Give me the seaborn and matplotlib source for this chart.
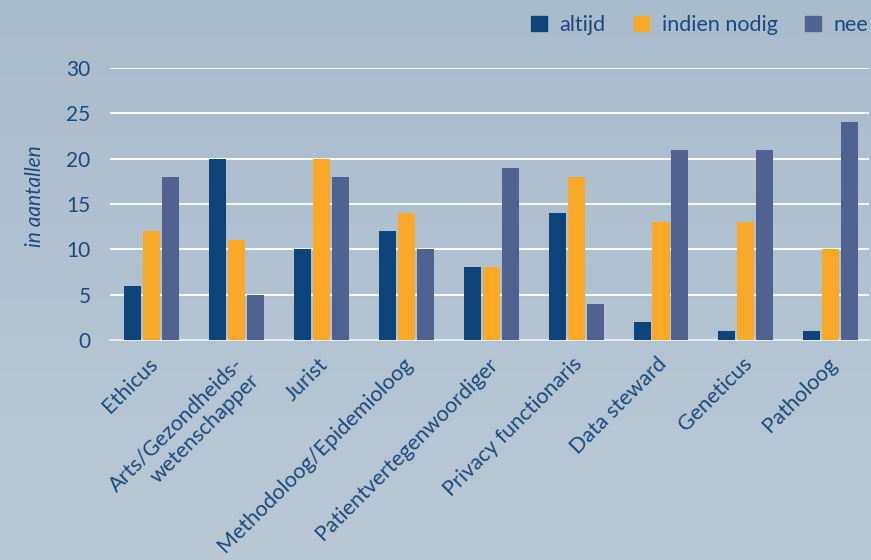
import numpy as np
import pandas as pd
import matplotlib
matplotlib.use("Agg")
import matplotlib.pyplot as plt
import matplotlib.transforms as mtransforms
import seaborn as sns

# data
rollen = ["Ethicus", "Arts/Gezondheids-\nwetenschapper", "Jurist", "Methodoloog/Epidemioloog",
          "Patientvertegenwoordiger", "Privacy functionaris", "Data steward", "Geneticus", "Patholoog"]
altijd = [6, 20, 10, 12, 8, 14, 2, 1, 1]
indien_nodig = [12, 11, 20, 14, 8, 18, 13, 13, 10]
nee = [18, 5, 18, 10, 19, 4, 21, 21, 24]
reeksen = ["altijd", "indien nodig", "nee"]
kleuren = ["#0e4479", "#f9a927", "#506290"]
tekst = "#1b4a7a"

df = pd.DataFrame({
    "rol": rollen * 3,
    "reeks": [r for r in reeksen for _ in rollen],
    "aantal": altijd + indien_nodig + nee,
})

sns.set_theme(style="white")
plt.rcParams["font.family"] = ["Lato", "DejaVu Sans"]

fig = plt.figure(figsize=(8.71, 5.6), dpi=100)

# gradient background
bg = fig.add_axes([0, 0, 1, 1], zorder=-10)
grad = np.linspace(0, 1, 256).reshape(-1, 1)
cmap = matplotlib.colors.LinearSegmentedColormap.from_list("bg", ["#a9bccd", "#b8c8d5"])
bg.imshow(grad, aspect="auto", cmap=cmap, extent=[0, 1, 0, 1], origin="upper")
bg.set_axis_off()

ax = fig.add_axes([110 / 871, 1 - 340 / 560, 759 / 871, 272 / 560])
ax.set_facecolor("none")
sns.barplot(data=df, x="rol", y="aantal", hue="reeks", palette=kleuren,
            width=0.67, gap=0.1, saturation=1, linewidth=0, edgecolor="none",
            ax=ax, legend=False, zorder=3)

ax.set_ylim(0, 30)
ax.set_xlim(-0.49, 8.45)
ax.set_yticks(range(0, 31, 5))
ax.yaxis.grid(True, color="white", linewidth=1.3, zorder=0)
for s in ["top", "right", "left"]:
    ax.spines[s].set_visible(False)
ax.spines["bottom"].set_color("#e4eaf0")
ax.spines["bottom"].set_linewidth(1.5)

ax.tick_params(axis="y", length=0, pad=14, labelsize=15, labelcolor=tekst)
ax.tick_params(axis="x", length=0, pad=10, labelsize=15.5, labelcolor=tekst)
shift = mtransforms.ScaledTranslation(-0.04, 0, fig.dpi_scale_trans)
for lbl in ax.get_xticklabels():
    lbl.set_rotation(45)
    lbl.set_ha("right")
    lbl.set_va("top")
    lbl.set_rotation_mode("anchor")
    lbl.set_multialignment("right")
    lbl.set_transform(lbl.get_transform() + shift)

ax.set_xlabel("")
ax.set_ylabel("in aantallen", fontsize=15, color=tekst, style="italic")
ax.yaxis.set_label_coords(-0.086, 0.53)

handles = [plt.Rectangle((0, 0), 1, 1, color=c) for c in kleuren]
fig.legend(handles, reeksen, loc="upper right", bbox_to_anchor=(1.019, 1.007), ncol=3,
           frameon=False, fontsize=15.5, labelcolor=tekst, handlelength=0.7,
           handleheight=0.7, handletextpad=0.6, columnspacing=1.3)

fig.savefig("out.png", dpi=100)
